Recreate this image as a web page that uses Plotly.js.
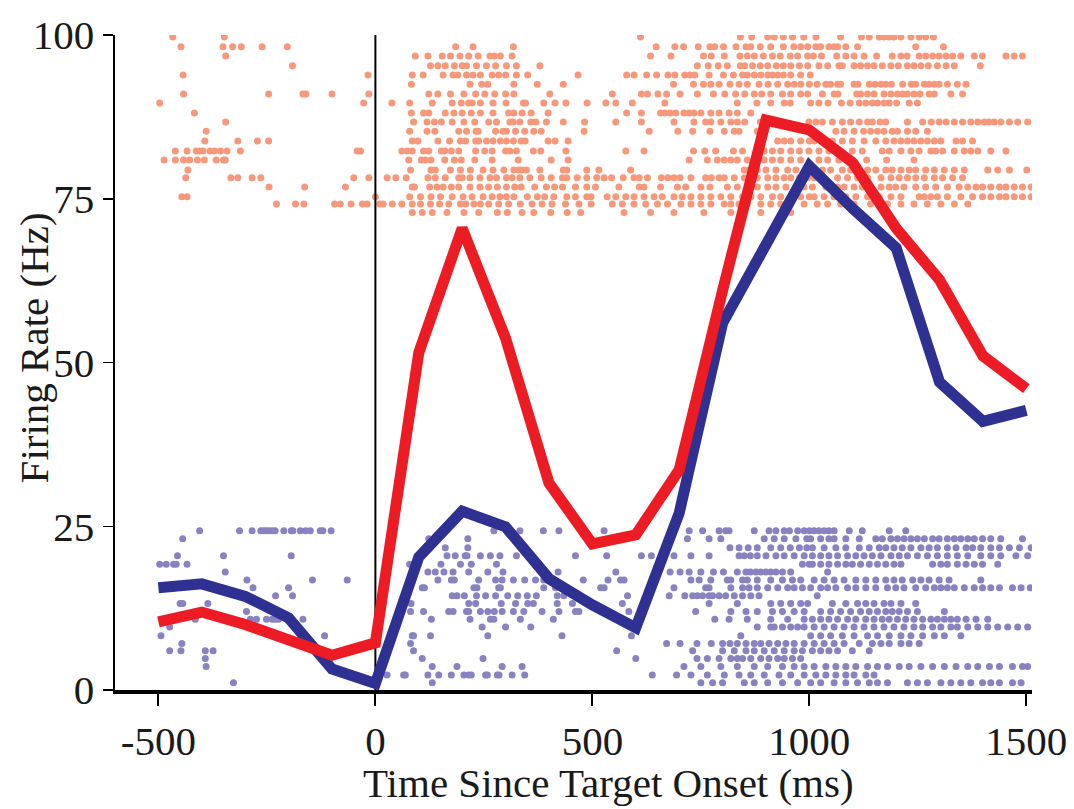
<!DOCTYPE html>
<html>
<head>
<meta charset="utf-8">
<script src="https://cdn.plot.ly/plotly-3.0.1.min.js"></script>
<style>html,body{margin:0;padding:0;background:#fff;}#chart{width:1074px;height:809px;}</style>
</head>
<body>
<div id="chart"></div>
<script>
// ---- Firing-rate curves (Hz) ----
const timeBins = [-500,-400,-300,-200,-100,0,100,200,300,400,500,600,700,800,900,1000,1100,1200,1300,1400,1500];
const rateRed  = [10.4,11.9,10.0,7.6,5.3,7.2,51.5,70.5,53.7,31.6,22.3,23.7,33.6,61.0,87.0,85.5,80.5,70.5,62.6,51.0,46.0];
const rateBlue = [15.6,16.2,14.3,11.0,3.2,1.0,20.3,27.3,24.9,17.0,13.0,9.5,27.0,56.0,68.0,80.0,73.5,67.5,47.0,41.0,42.7];

// ---- Raster rows (y level of each trial) ----
const orangeRowY = [99.7,98.2,96.8,95.3,93.9,92.5,91.0,89.6,88.1,86.7,85.3,83.8,82.3,80.9,79.4,78.2,76.8,75.3,74.2,72.9];
const purpleRowY = [24.3,23.1,21.7,20.5,19.2,18.0,16.8,15.6,14.4,13.2,12.0,10.8,9.6,8.3,7.1,6.0,4.8,3.6,2.3,1.1];

// ---- Spike times (ms) for each orange trial ----
const orangeSpikes = [
 [-467,-348,611,841,867,904,919,940,961,987,1015,1072,1120,1138,1161,1172,1184,1195,1211,1234,1253,1268,1286],
 [-448,-351,-329,-309,-261,-203,185,225,318,647,690,710,744,771,782,802,831,854,865,887,911,940,964,980,996,1015,1026,1045,1057,1065,1084,1111,1245,1309],
 [-345,92,121,154,173,195,215,237,264,274,288,315,634,681,756,774,804,840,857,873,894,915,933,956,973,996,1009,1028,1063,1084,1103,1126,1155,1191,1211,1225,1253,1268,1284,1299,1315,1330,1349,1380,1399,1453,1472,1491],
 [-191,127,144,161,182,200,210,233,256,277,302,325,379,742,767,790,811,841,851,869,887,904,924,940,957,977,996,1022,1042,1068,1076,1103,1118,1134,1149,1168,1188,1205,1226,1241,1257,1274,1295,1315,1334,1394],
 [-443,-17,85,110,156,179,190,210,225,242,269,284,300,325,351,467,579,596,625,648,674,690,713,725,736,769,802,825,846,857,873,888,904,915,927,940,957,980,1002],
 [83,218,245,259,319,373,433,687,733,756,773,792,817,838,857,884,905,927,950,965,980,1000,1018,1038,1049,1065,1072,1103,1112,1138,1151,1165,1176,1189,1215,1235,1245,1265,1276,1288,1299,1318,1341,1361],
 [-442,-246,-167,-160,-100,-15,123,144,173,204,231,252,275,300,319,402,546,613,627,651,671,702,742,779,805,830,851,873,890,911,938,957,980,996,1030,1057,1066,1109,1118,1134,1149,1172,1188,1203,1215,1226,1241,1255,1276,1288,1326,1353],
 [-497,-27,38,79,131,177,198,215,223,242,271,301,341,346,388,414,439,488,531,554,592,667,834,879,911,942,956,1003,1022,1043,1074,1094,1115,1130,1145,1157,1172,1184,1201,1230,1249],
 [-417,83,111,123,161,181,200,221,242,271,307,319,338,359,398,579,613,657,667,679,692,711,723,734,750,773,792,815,834,865],
 [-345,88,119,136,152,177,204,229,261,279,310,318,333,358,370,394,433,482,554,613,688,734,761,773,796,819,834,851,887,999,1015,1030,1053,1076,1095,1115,1134,1145,1163,1176,1226,1261,1281,1299,1315,1334,1353,1372,1388,1403,1414,1426,1441,1461,1480,1503],
 [-390,79,119,137,192,210,232,237,277,294,302,323,344,365,382,481,631,697,731,771,804,827,838,880,1007,1061,1080,1103,1125,1141,1157,1172,1191,1203,1226,1245,1272],
 [-393,-317,-272,-246,85,98,144,171,196,208,231,238,256,271,288,302,318,336,345,398,414,444,927,942,957,980,1000,1011,1030,1053,1076,1099,1126,1153,1176,1195,1211,1226,1241,1257,1272,1288,1303,1338,1353,1376],
 [-461,-434,-413,-405,-397,-381,-371,-357,-342,-311,-42,-34,61,73,85,111,123,152,160,175,192,231,252,269,300,310,325,364,381,439,577,619,733,759,784,825,846,896,915,934,957,977,999,1022,1045,1072,1099,1122,1168,1184,1211,1234,1253,1280,1291,1307,1334,1357,1372,1388,1418,1453],
 [-487,-461,-442,-428,-410,-394,-367,-350,-346,77,106,115,128,160,182,198,229,269,329,405,444,723,765,788,804,819,834,857,896,915,934,957,980,1022,1042,1068,1099,1132,1178,1241],
 [-432,81,128,138,173,196,219,248,271,296,319,330,338,348,379,433,441,487,515,588,850,861,880,900,923,950,969,996,1011,1030,1049,1076,1095,1115,1134,1153,1176,1191,1211,1230,1245,1268,1288,1311,1334,1357,1411,1434,1461,1501],
 [-437,-333,-317,-284,-264,-50,-15,27,47,71,121,138,161,192,200,218,241,264,279,302,315,333,356,382,405,431,441,465,487,510,527,544,571,596,608,627,659,674,688,702,727,761,774,792,804,827,850,865,880,904,923,942,957,977,996,1011,1030,1065,1088,1111,1134,1165,1188,1207,1226,1245,1265,1288,1307,1330,1353],
 [-245,-163,-69,85,90,125,142,156,175,192,218,241,261,281,302,321,336,367,394,413,431,461,487,507,561,608,619,657,696,715,750,771,811,834,865,880,904,923,946,969,988,1007,1038,1065,1080,1103,1122,1141,1165,1184,1199,1218,1245,1268,1291,1318,1345,1365,1384,1399,1418,1438,1453,1472,1491,1511],
 [-446,-434,0,79,104,128,150,177,202,223,248,269,287,302,319,350,373,390,411,441,461,487,497,534,554,577,596,619,642,661,688,707,727,750,773,796,819,846,865,888,915,934,957,980,1000,1011,1034,1057,1084,1107,1134,1161,1188,1211,1253,1265,1280,1295,1318,1349,1376,1399,1418,1438,1453,1472,1491,1511],
 [-228,-184,-165,-94,-81,-56,-30,-19,10,18,39,61,85,104,127,148,169,196,208,227,242,261,284,307,334,361,384,407,438,469,497,546,569,596,623,650,673,704,727,750,773,804,819,838,857,888,911,934,957,988,1018,1042,1072,1103,1141,1180,1211,1241,1272,1303,1334,1365],
 [85,108,131,165,204,238,281,304,338,365,404,442,473,573,634,688,757,819,888,957]
];

// ---- Spike times (ms) for each purple trial ----
const purpleSpikes = [
 [-405,-313,-284,-264,-257,-251,-245,-238,-231,-211,-194,-190,-173,-161,-150,-127,-121,-102,273,333,387,423,527,723,754,792,807,815,873,907,923,942,954,973,988,1000,1011,1022,1034,1045,1057,1092,1122,1184,1222],
 [-444,123,213,719,769,796,896,919,942,969,994,1003,1026,1045,1057,1084,1115,1153,1168,1188,1203,1218,1234,1249,1265,1284,1299,1318,1334,1349,1365,1380,1399,1418,1441,1491],
 [161,213,817,838,859,880,911,934,956,977,994,1007,1034,1061,1084,1115,1138,1161,1176,1195,1214,1234,1257,1276,1295,1318,1338,1361,1376,1395,1418,1438,1461,1484,1511],
 [-456,-350,-194,165,184,207,211,242,265,287,325,461,533,613,636,688,727,769,838,850,864,880,900,923,942,965,988,1007,1026,1045,1065,1088,1107,1126,1145,1165,1188,1207,1226,1249,1272,1295,1318,1341,1365,1395,1418,1441,1476,1503],
 [-497,-482,-465,-459,-434,79,151,196,221,279,984,1000,1007,1026,1045,1065,1084,1099,1118,1138,1157,1176,1195,1211,1284,1303,1318,1341,1361,1380,1399,1434],
 [-346,121,138,158,179,215,259,294,421,554,679,702,723,750,779,802,834,854,864,877,888,900,911,923,938,957,1042],
 [-296,-145,-65,144,175,182,238,277,292,318,344,369,388,479,536,565,573,727,746,773,811,819,846,857,880,911,938,961,980,1011,1034,1057,1080,1107,1130,1153,1176,1195,1214,1238,1257,1276,1299,1322,1395],
 [-282,-200,108,113,227,234,284,288,388,415,438,519,527,688,761,769,819,846,861,880,904,927,950,965,984,1003,1026,1042,1061,1088,1107,1130,1153,1180,1199,1218,1245,1268,1288,1303,1318,1334,1357,1380,1399,1418,1438,1468,1488,1509],
 [-230,-191,177,188,205,233,254,277,305,328,350,371,419,434,581,677,713,731,742,754,769,777,792,807,827,846,865,884,1018],
 [-450,-444,-386,82,215,231,290,323,351,364,419,454,569,769,834,911,934,957,980,996,1053,1084,1111,1130,1149,1172,1188,1211,1245],
 [-297,81,111,169,179,210,215,242,259,274,292,318,342,384,423,461,469,584,738,819,854,880,915,938,965,988,1026,1049,1072,1095,1118,1138,1157,1176,1191,1207,1226,1249,1311],
 [-415,-288,-274,-251,-238,-231,-223,-204,-167,129,218,265,273,334,410,782,815,857,911,950,988,1007,1026,1045,1065,1088,1107,1130,1149,1168,1184,1203,1222,1241,1261,1280,1295,1311,1326,1341,1361,1384,1411],
 [-474,246,300,358,880,911,919,938,957,973,988,1011,1034,1057,1080,1103,1126,1149,1172,1195,1218,1241,1261,1284,1303,1326,1341,1365,1388,1411,1434,1457,1480,1503],
 [-494,-117,85,88,127,259,430,590,842,1003,1026,1049,1076,1103,1134,1157,1184,1211,1234,1261,1288,1311,1349],
 [-446,81,671,702,741,774,800,817,834,854,873,888,907,927,946,965,988,1011,1034,1057,1080,1115,1145,1165,1184,1211,1230,1253],
 [-474,-448,-392,-374,88,556,731,800,827,854,873,896,919,942,965,984,1007,1026,1045,1065,1099,1138],
 [-392,108,248,600,741,765,792,819,834,846,865,888,907,927,942,961,980],
 [-390,131,188,292,338,711,750,796,834,873,904,938,965,988,1011,1038,1061,1084,1107,1134,1157,1180,1207,1230,1257,1284,1311,1338,1365,1388,1415,1438,1468,1491,1503],
 [27,65,69,121,146,175,204,215,221,254,258,281,285,315,344,638,694,727,765,804,838,865,896,930,957,988,1015,1038,1061,1084,1103,1130,1149],
 [-327,131,750,777,800,850,873,904,938,973,1003,1026,1057,1084,1111,1138,1157,1180,1226,1249,1272,1303,1326,1349,1372,1399,1418,1438,1468,1488]
];

const xTicks = [-500, 0, 500, 1000, 1500];
const yTicks = [0, 25, 50, 75, 100];
const onsetTime = 0;
const xTitle = 'Time Since Target Onset (ms)';
const yTitle = 'Firing Rate (Hz)';

function flatten(rowsY, spikes) {
  const xs = [], ys = [];
  spikes.forEach((row, i) => row.forEach(t => { xs.push(t); ys.push(rowsY[i]); }));
  return {xs, ys};
}
const o = flatten(orangeRowY, orangeSpikes);
const p = flatten(purpleRowY, purpleSpikes);

const FONT = 'Liberation Serif, Times New Roman, serif';
const TXT = '#1a1a1a';

const traces = [
  {x: o.xs, y: o.ys, type: 'scatter', mode: 'markers', hoverinfo: 'skip',
   marker: {color: '#F7987B', size: 7, symbol: 'circle', line: {width: 0}}},
  {x: p.xs, y: p.ys, type: 'scatter', mode: 'markers', hoverinfo: 'skip',
   marker: {color: '#8882C1', size: 7, symbol: 'circle', line: {width: 0}}},
  {x: [onsetTime, onsetTime], y: [yTicks[0], yTicks[yTicks.length-1]], type: 'scatter', mode: 'lines',
   line: {color: '#000', width: 2}, hoverinfo: 'skip'},
  {x: timeBins, y: rateBlue, type: 'scatter', mode: 'lines',
   line: {color: '#2E3192', width: 11}},
  {x: timeBins, y: rateRed, type: 'scatter', mode: 'lines',
   line: {color: '#ED1C24', width: 11}}
];

const layout = {
  width: 1074, height: 809,
  margin: {l: 115, r: 42, t: 35, b: 119},
  paper_bgcolor: '#fff', plot_bgcolor: '#fff',
  showlegend: false,
  font: {family: FONT, color: TXT},
  xaxis: {
    range: [-600, 1513], tickvals: xTicks, ticktext: xTicks.map(String),
    ticks: 'outside', ticklen: 12, tickwidth: 2, tickcolor: '#000',
    showline: true, linewidth: 4, linecolor: '#000',
    showgrid: false, zeroline: false,
    tickfont: {family: FONT, size: 41, color: TXT}
  },
  yaxis: {
    range: [0, 100], tickvals: yTicks, ticktext: yTicks.map(String),
    ticks: 'outside', ticklen: 10, tickwidth: 1.5, tickcolor: '#000',
    showline: true, linewidth: 2.5, linecolor: '#000',
    showgrid: false, zeroline: false,
    tickfont: {family: FONT, size: 41, color: TXT}
  },
  annotations: [
    {text: xTitle, xref: 'paper', yref: 'paper', x: 0.538, y: -0.142,
     xanchor: 'center', yanchor: 'middle', showarrow: false,
     font: {family: FONT, size: 41, color: TXT}},
    {text: yTitle, xref: 'paper', yref: 'paper', x: -0.088, y: 0.522, textangle: -90,
     xanchor: 'center', yanchor: 'middle', showarrow: false,
     font: {family: FONT, size: 41, color: TXT}}
  ]
};

Plotly.newPlot('chart', traces, layout, {staticPlot: true, displayModeBar: false});
</script>
</body>
</html>
